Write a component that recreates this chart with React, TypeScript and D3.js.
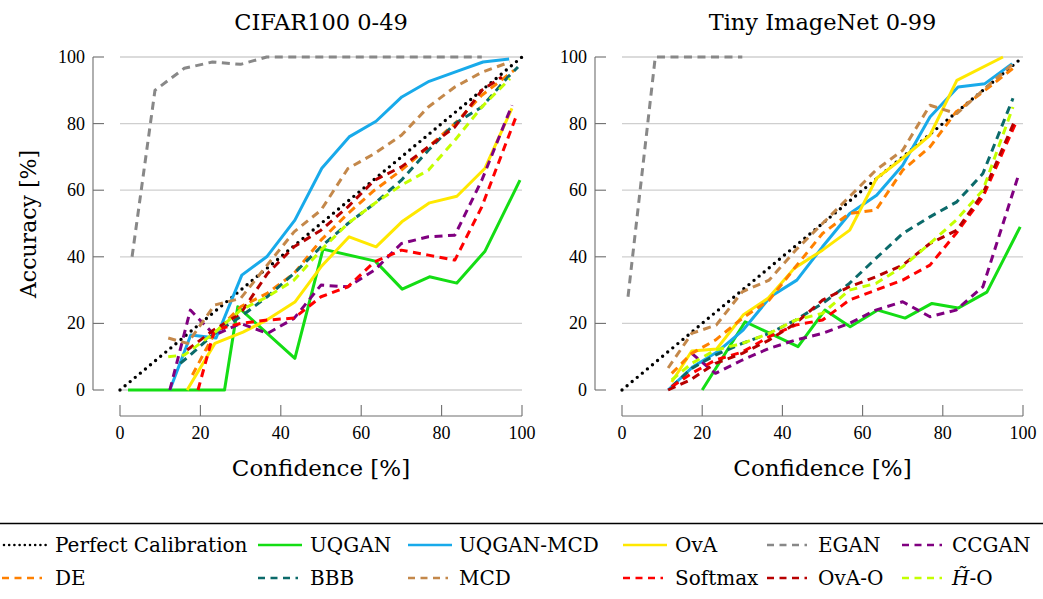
import React from "react";
import * as d3 from "d3";

type Pt = [number, number];

// Reliability diagrams: bin confidence [%] vs. bin accuracy [%]
const perfect: Pt[] = [[0, 0], [100, 100]];

// CIFAR100 0-49
const cifarUQGAN: Pt[] = [[2, 0], [26, 0], [29.3, 25], [43.5, 9.5], [50.5, 42.3], [63.5, 38.7], [70.2, 30.3], [77, 34], [83.8, 32.1], [90.8, 41.7], [99.5, 63]];
const cifarUQGANMCD: Pt[] = [[12.4, 0], [17.6, 16.5], [23.9, 15.6], [30.3, 34.5], [36.5, 40], [43.5, 51], [50.2, 66.6], [57, 76], [63.7, 80.7], [70.1, 88], [76.9, 92.7], [83.8, 95.7], [90.3, 98.5], [96.8, 99.4]];
const cifarOvA: Pt[] = [[16.7, 0], [23.6, 14], [30.6, 17.4], [36.5, 21], [43.5, 26.4], [50, 37], [57, 46], [63.7, 43], [70.1, 50.5], [77, 56.2], [83.8, 58.2], [90.8, 66.6], [97.5, 84.6]];
const cifarEGAN: Pt[] = [[3, 40], [8.7, 90], [16, 96.6], [23, 98.5], [30, 97.8], [36.5, 100], [43.3, 100], [50, 100], [56.7, 100], [63.3, 100], [70, 100], [76.7, 100], [83.3, 100], [90, 100]];
const cifarCCGAN: Pt[] = [[12.4, 0], [17.5, 24], [23.5, 16.5], [30, 20], [36.7, 17], [43.3, 21.5], [50, 31.5], [56.7, 31], [63.3, 36], [70, 44], [76.7, 46], [83.3, 46.5], [90, 63], [97.5, 85.5]];
const cifarDE: Pt[] = [[18, 4.5], [23.5, 17], [30, 25], [36.6, 29], [43.3, 35], [50, 45], [56.7, 53], [63.3, 60], [70, 66], [76.7, 73], [83.3, 80], [90, 88.5], [98, 96]];
const cifarBBB: Pt[] = [[15, 8], [17.5, 10.5], [23.5, 17], [30, 22], [36.6, 28], [43.3, 35], [50, 43], [56.7, 50], [63.3, 56], [70, 63], [76.7, 72], [83.3, 80], [90, 85], [96.5, 94], [99, 97]];
const cifarMCD: Pt[] = [[12, 15.6], [16.8, 14], [23.5, 25.5], [30, 27.5], [36.6, 37.5], [43.3, 47.5], [50, 54], [56.7, 66.5], [63.3, 71], [70, 76.5], [76.7, 85], [83.3, 91], [90, 95.4], [97, 98.5]];
const cifarSoftmax: Pt[] = [[19.4, 0], [23.5, 18], [30, 20], [36.7, 21], [43.3, 21.6], [50, 28], [56.7, 31], [63.3, 38.5], [70, 42], [76.7, 40.5], [83.3, 39], [90, 55], [98.5, 82]];
const cifarOvAO: Pt[] = [[16.7, 12], [23.3, 18], [30, 23], [36.7, 35], [43.3, 43], [50, 48], [56.7, 55], [63.3, 63], [70, 67], [76.7, 73], [83.3, 79], [90, 90], [95, 94]];
const cifarHO: Pt[] = [[12, 10], [16, 10.5], [23.3, 17], [30, 24], [36.7, 28], [43.3, 33], [50, 42], [56.7, 50], [63.3, 56], [70, 61.5], [76.7, 66], [83.3, 75], [90, 85], [97, 93.5]];

// Tiny ImageNet 0-99
const tinyUQGAN: Pt[] = [[20, 0], [30.7, 20.5], [43.9, 13], [50.6, 24], [56.9, 19], [63.8, 24], [70.6, 21.6], [77.3, 26], [83.8, 24.6], [91, 29.4], [99.3, 49]];
const tinyUQGANMCD: Pt[] = [[11.5, 0], [17.7, 7], [23.7, 11.4], [30.2, 18], [37, 28], [43.6, 33], [50, 43], [56.8, 53], [63.5, 58.5], [70, 67.5], [76.8, 82], [83.8, 91], [90.5, 92], [97.3, 98]];
const tinyOvA: Pt[] = [[12.4, 2.4], [17.4, 11.7], [23.6, 12.3], [30.2, 22.5], [36.5, 27.6], [43, 36.6], [50, 42], [56.8, 48], [63.5, 63.6], [70, 69.6], [76.8, 76.5], [83.5, 93], [95, 100]];
const tinyEGAN: Pt[] = [[1.5, 28], [8.3, 100], [16.7, 100], [23.3, 100], [30, 100]];
const tinyCCGAN: Pt[] = [[17.4, 11], [23.3, 5], [30, 9], [36.7, 12.5], [43.3, 15], [50, 17], [56.7, 20], [63.3, 24], [70, 26.5], [76.8, 22], [83.3, 24], [90, 31], [99, 65]];
const tinyDE: Pt[] = [[12.4, 5], [17.4, 11], [23.3, 15], [30, 21.5], [36.7, 27], [43.3, 37], [50, 47], [56.7, 53], [63.3, 54], [70, 66], [76.8, 73], [83.3, 83.5], [90, 89.5], [97.5, 96.6]];
const tinyBBB: Pt[] = [[12.4, 1], [17.4, 6.5], [23.3, 10.5], [30, 14], [36.7, 17], [43.3, 21], [50, 26], [56.7, 32], [63.3, 39.5], [70, 47], [76.8, 52], [83.5, 56.5], [90, 65], [97.5, 87.6]];
const tinyMCD: Pt[] = [[11.5, 6.6], [17.4, 17], [23.5, 19.5], [30, 29.5], [36.7, 33], [43.3, 42], [50, 50], [56.7, 58], [63.3, 66], [70, 72], [76.8, 85.5], [83.5, 83], [90, 90], [97.5, 98]];
const tinySoftmax: Pt[] = [[12.4, 1], [17.4, 5], [23.3, 9], [30, 11.4], [36.7, 16], [43.3, 19.5], [50, 21], [56.7, 27], [63.3, 30], [70, 33], [76.8, 37.5], [83.3, 47], [90, 58], [98.5, 81]];
const tinyOvAO: Pt[] = [[11.5, 0], [17, 3], [23.3, 8], [30, 11], [36.7, 15], [43.3, 20], [50, 27], [56.7, 31], [63.3, 34], [70, 37.5], [76.8, 44], [83.5, 48], [90, 59], [98, 81]];
const tinyHO: Pt[] = [[12.4, 3], [17.4, 8], [23.3, 12], [30, 14], [36.7, 17], [43.3, 21], [50, 23], [56.7, 30], [63.3, 32], [70, 37], [76.8, 44], [83.3, 51], [90, 60], [97.5, 85]];

const seriesNames = ["Perfect Calibration", "UQGAN", "UQGAN-MCD", "OvA", "EGAN", "CCGAN", "DE", "BBB", "MCD", "Softmax", "OvA-O", "H̃-O"];
const seriesColors = ["#000000", "#14dd14", "#18aaea", "#ffe800", "#888888", "#800080", "#ff8000", "#0b6a6a", "#c4884a", "#ff0000", "#b80000", "#c4ff00"];
const seriesStyles = ["dotted", "solid", "solid", "solid", "dashed", "dashed", "dashed", "dashed", "dashed", "dashed", "dashed", "dashed"];

const cifarData = [perfect, cifarUQGAN, cifarUQGANMCD, cifarOvA, cifarEGAN, cifarCCGAN, cifarDE, cifarBBB, cifarMCD, cifarSoftmax, cifarOvAO, cifarHO];
const tinyData = [perfect, tinyUQGAN, tinyUQGANMCD, tinyOvA, tinyEGAN, tinyCCGAN, tinyDE, tinyBBB, tinyMCD, tinySoftmax, tinyOvAO, tinyHO];

const ticks = [0, 20, 40, 60, 80, 100];

const W = 1043;
const H = 599;
const SERIF = "'DejaVu Serif', serif";
const NUMF = "'Liberation Serif', serif";

function dashFor(style: string, legend = false) {
  if (style === "dotted") return legend ? "0,5.2" : "0,6.6";
  if (style === "dashed") return legend ? "7,5.5" : "8,5.5";
  return undefined;
}

function Panel({ title, data, x0, x1 }: { title: string; data: Pt[][]; x0: number; x1: number }) {
  const x = d3.scaleLinear().domain([0, 100]).range([x0, x1]);
  const y = d3.scaleLinear().domain([0, 100]).range([390, 57]);
  const line = d3.line<Pt>().x((d) => x(d[0])).y((d) => y(d[1]));
  const axisX = x0 - 27;
  const axisY = 416;
  const cx = (x0 + x1) / 2;
  return (
    <g>
      <text x={cx} y={30} textAnchor="middle" fontFamily={SERIF} fontSize={22.5} fill="#000">{title}</text>
      {ticks.map((t) => (
        <line key={"g" + t} x1={x(0)} x2={x(100)} y1={y(t)} y2={y(t)} stroke="#cfcfcf" strokeWidth={1.3} />
      ))}
      <line x1={axisX} x2={axisX} y1={y(100)} y2={y(0)} stroke="#6e6e6e" strokeWidth={1.1} />
      {ticks.map((t) => (
        <g key={"yt" + t}>
          <line x1={axisX} x2={axisX + 11} y1={y(t)} y2={y(t)} stroke="#6e6e6e" strokeWidth={1.1} />
          <text x={axisX - 8} y={y(t) + 6} textAnchor="end" fontFamily={NUMF} fontSize={18} fill="#000">{t}</text>
        </g>
      ))}
      <line x1={x(0)} x2={x(100)} y1={axisY} y2={axisY} stroke="#6e6e6e" strokeWidth={1.1} />
      {ticks.map((t) => (
        <g key={"xt" + t}>
          <line x1={x(t)} x2={x(t)} y1={axisY} y2={axisY - 11} stroke="#6e6e6e" strokeWidth={1.1} />
          <text x={x(t)} y={439} textAnchor="middle" fontFamily={NUMF} fontSize={18} fill="#000">{t}</text>
        </g>
      ))}
      <text x={cx} y={476} textAnchor="middle" fontFamily={SERIF} fontSize={23} fill="#000">Confidence [%]</text>
      {data.map((pts, i) => (
        <path
          key={seriesNames[i]}
          d={line(pts) || ""}
          fill="none"
          stroke={seriesColors[i]}
          strokeWidth={seriesStyles[i] === "dotted" ? 3.4 : 3}
          strokeDasharray={dashFor(seriesStyles[i])}
          strokeLinecap={seriesStyles[i] === "dotted" ? "round" : "butt"}
          strokeLinejoin="round"
        />
      ))}
    </g>
  );
}

// legend layout: six columns, two rows
const legendSampleX = [2, 258, 408, 623, 767, 902];
const legendTextX = [55, 310, 459, 675, 818, 952];
const legendRowY = [545, 578];

function Legend() {
  return (
    <g>
      <line x1={0} x2={W} y1={523.5} y2={523.5} stroke="#000" strokeWidth={1.4} />
      {seriesNames.map((name, i) => {
        const col = i % 6;
        const row = Math.floor(i / 6);
        const sy = legendRowY[row];
        const sx = legendSampleX[col];
        const style = seriesStyles[i];
        const len = style === "solid" ? 44 : style === "dotted" ? 46 : 40;
        return (
          <g key={name}>
            <line
              x1={sx + (style === "dotted" ? 2 : 0)}
              x2={sx + len}
              y1={sy}
              y2={sy}
              stroke={seriesColors[i]}
              strokeWidth={style === "dotted" ? 2.6 : 2.4}
              strokeDasharray={dashFor(style, true)}
              strokeLinecap={style === "dotted" ? "round" : "butt"}
            />
            <text x={legendTextX[col]} y={sy + 7} fontFamily={SERIF} fontSize={20} fill="#000">
              {name === "H̃-O" ? (
                <>
                  <tspan fontStyle="italic">H̃</tspan>
                  <tspan>-O</tspan>
                </>
              ) : (
                name
              )}
            </text>
          </g>
        );
      })}
    </g>
  );
}

export default function App() {
  return (
    <svg width={W} height={H} viewBox={`0 0 ${W} ${H}`} style={{ position: "absolute", left: 0, top: 0, background: "#fff" }}>
      <rect x={0} y={0} width={W} height={H} fill="#fff" />
      <text transform="translate(36,224) rotate(-90)" textAnchor="middle" fontFamily={SERIF} fontSize={22} fill="#000">Accuracy [%]</text>
      <Panel title="CIFAR100 0-49" data={cifarData} x0={120} x1={522} />
      <Panel title="Tiny ImageNet 0-99" data={tinyData} x0={622} x1={1023} />
      <Legend />
    </svg>
  );
}
